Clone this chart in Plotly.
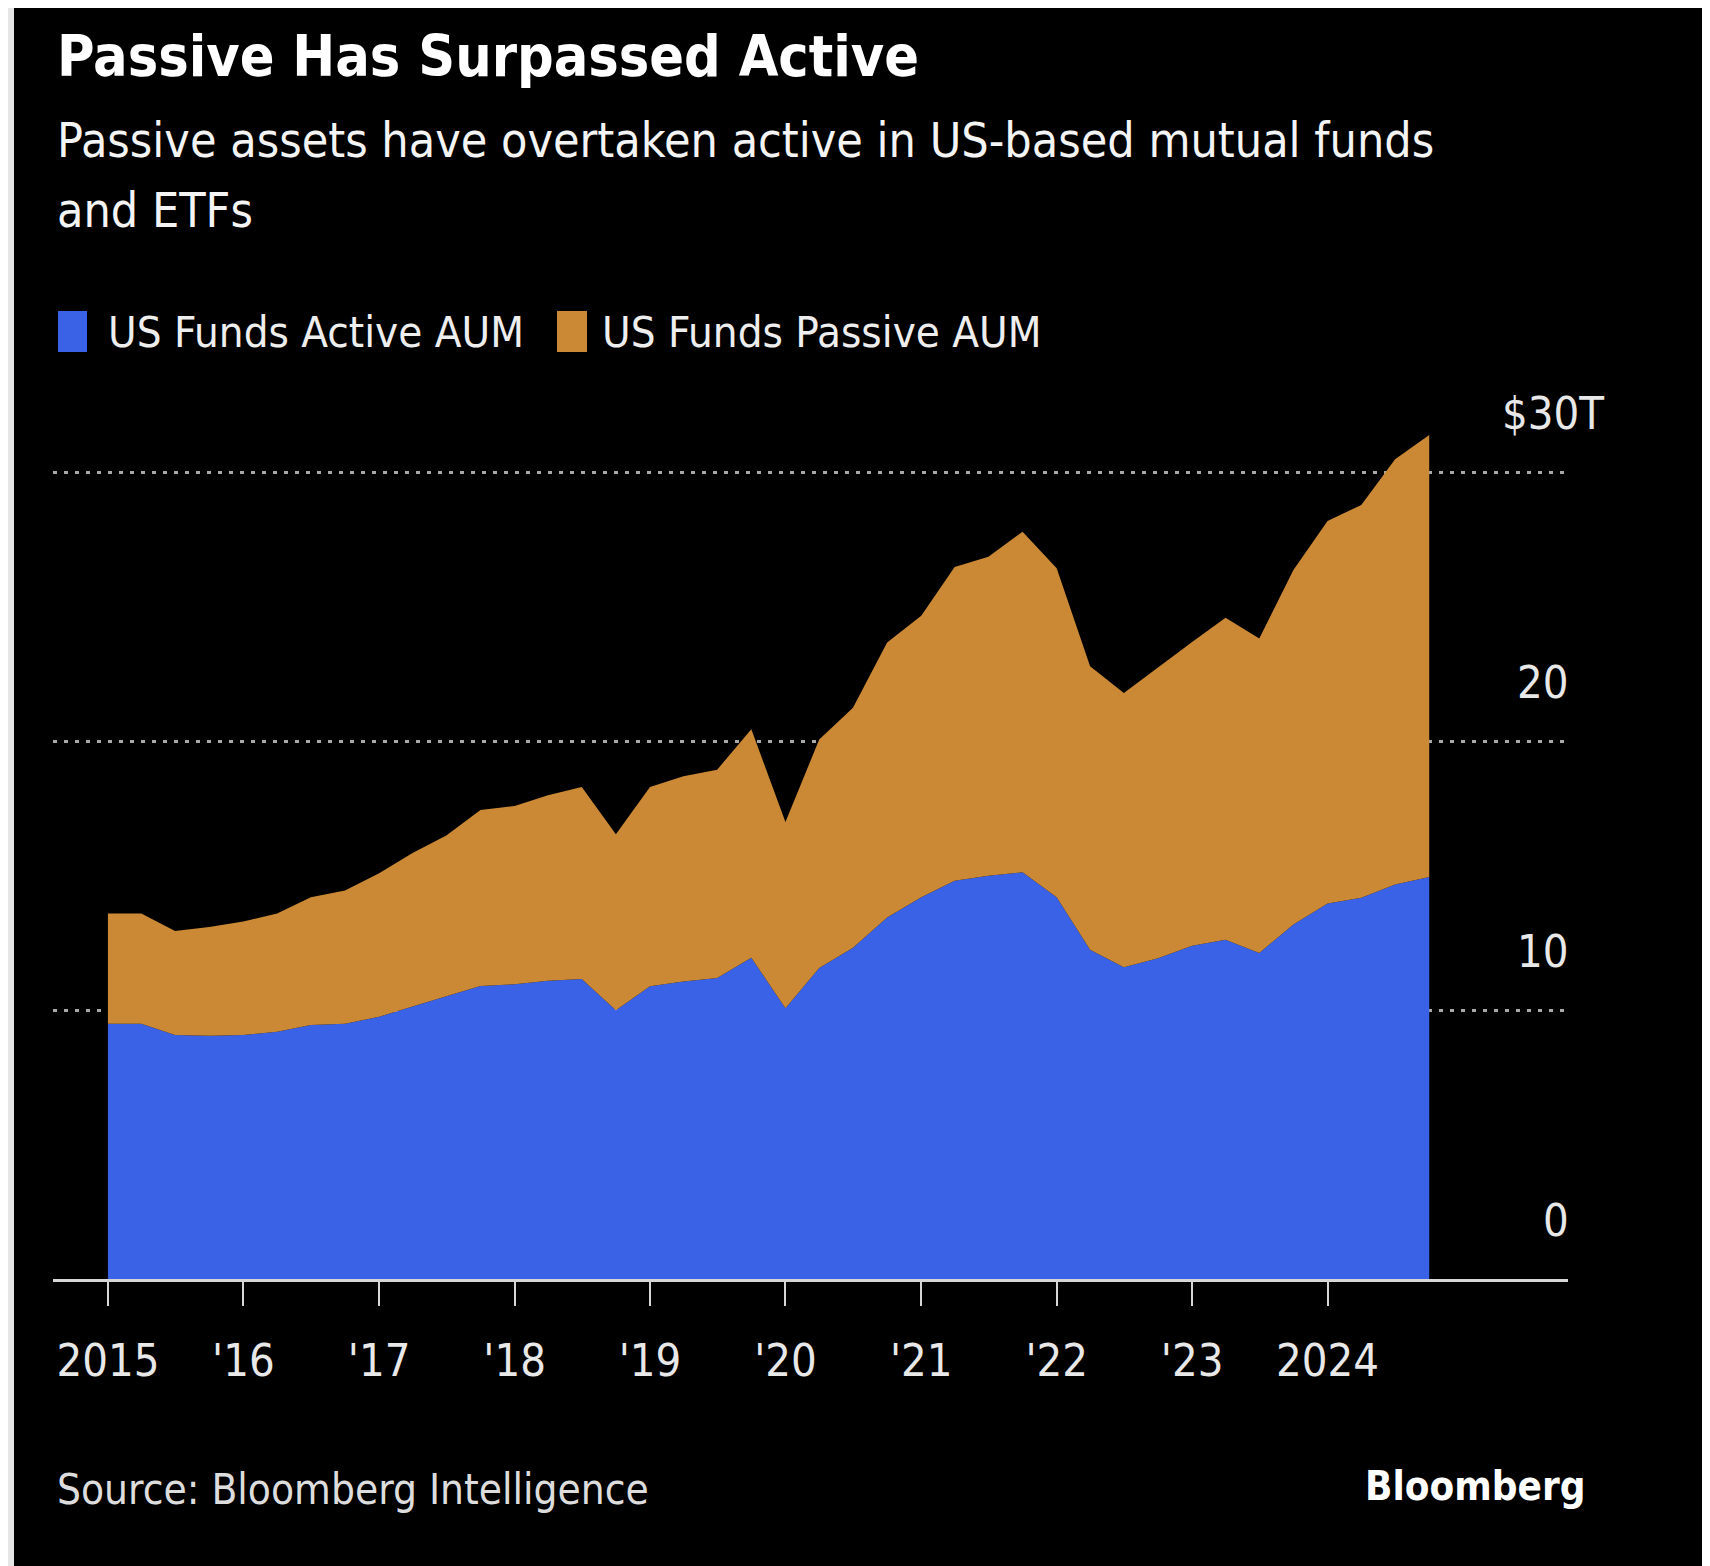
import pandas as pd
import plotly.graph_objects as go

# ---------------- data (USD trillions, quarterly) ----------------
quarters = pd.date_range("2015-01-01", "2024-10-01", freq="QS").strftime("%Y-%m-%d").tolist()

active_aum = [9.50, 9.50, 9.08, 9.05, 9.08, 9.20, 9.45, 9.50,
              9.76, 10.14, 10.52, 10.90, 10.97, 11.10, 11.16, 10.00,
              10.89, 11.07, 11.20, 11.95, 10.07, 11.57, 12.32, 13.45,
              14.20, 14.82, 15.00, 15.13, 14.20, 12.25, 11.60, 11.93,
              12.40, 12.62, 12.13, 13.19, 13.97, 14.18, 14.68, 14.96]

passive_aum = [4.10, 4.10, 3.87, 4.05, 4.22, 4.40, 4.75, 4.95,
               5.34, 5.71, 5.98, 6.55, 6.63, 6.90, 7.14, 6.55,
               7.41, 7.63, 7.75, 8.50, 6.93, 8.50, 8.93, 10.23,
               10.48, 11.67, 11.87, 12.67, 12.24, 10.55, 10.20, 10.82,
               11.30, 11.98, 11.70, 13.19, 14.23, 14.62, 15.82, 16.44]

series_names = ["US Funds Active AUM", "US Funds Passive AUM"]

x_tick_vals = ["2015-01-01", "2016-01-01", "2017-01-01", "2018-01-01", "2019-01-01",
               "2020-01-01", "2021-01-01", "2022-01-01", "2023-01-01", "2024-01-01"]
x_tick_text = ["2015", "'16", "'17", "'18", "'19", "'20", "'21", "'22", "'23", "2024"]

y_grid_vals = [10, 20, 30]
y_label_vals = [0, 10, 20]
y_label_text = ["0", "10", "20"]
y_top_val = 30
y_top_text = "$30T"

title = "Passive Has Surpassed Active"
subtitle_1 = "Passive assets have overtaken active in US-based mutual funds"
subtitle_2 = "and ETFs"
source = "Source: Bloomberg Intelligence"
brand = "Bloomberg"

# ---------------- style ----------------
BLUE = "#3A62E6"
ORANGE = "#CB8935"
FONT = "DejaVu Sans Condensed, Liberation Sans Narrow, Liberation Sans, sans-serif"
W, H = 1710, 1566
OFF = 8  # page body margin around the figure
ML, MR, MT, MB = 45, 150, 384, 295
PW, PH = W - ML - MR, H - MT - MB


def px_x(page_px):
    return (page_px - OFF - ML) / PW


def px_y(page_py):
    return (H - MB - (page_py - OFF)) / PH


fig = go.Figure()
fig.add_trace(go.Scatter(x=quarters, y=active_aum, name=series_names[0], stackgroup="aum",
                         mode="none", fillcolor=BLUE, hoverinfo="x+y+name"))
fig.add_trace(go.Scatter(x=quarters, y=passive_aum, name=series_names[1], stackgroup="aum",
                         mode="none", fillcolor=ORANGE, hoverinfo="x+y+name"))

x_start = pd.Timestamp("2015-01-01") - pd.Timedelta(days=148)
x_end = pd.Timestamp("2025-10-10")

annotations = []


def text_ann(txt, x_px, base_px, size, color="#ffffff", anchor="left", bold=False):
    top = base_px - 0.99 * size
    annotations.append(dict(
        text=f"<b>{txt}</b>" if bold else txt, xref="paper", yref="paper",
        x=px_x(x_px), y=px_y(top), xanchor=anchor, yanchor="top", showarrow=False,
        font=dict(family=FONT, size=size, color=color), borderpad=1))


text_ann(title, 55, 77, 57, bold=True)
text_ann(subtitle_1, 55, 158, 48, color="#f4f4f4")
text_ann(subtitle_2, 55, 228, 48, color="#f4f4f4")
text_ann(series_names[0], 106, 348, 43.5, color="#eeeeee")
text_ann(series_names[1], 600, 348, 43.5, color="#eeeeee")
text_ann(source, 55, 1505, 42, color="#dddddd")
text_ann(brand, 1587, 1501, 40, color="#ffffff", anchor="right", bold=True)

LABEL_SIZE = 45
for v, t in zip(y_label_vals, y_label_text):
    annotations.append(dict(text=t, xref="paper", yref="y", x=px_x(1570), y=v,
                            xanchor="right", yanchor="bottom", yshift=31, showarrow=False,
                            borderpad=0, font=dict(family=FONT, size=LABEL_SIZE, color="#e8e8e8")))
annotations.append(dict(text=y_top_text, xref="paper", yref="y", x=px_x(1605), y=y_top_val,
                        xanchor="right", yanchor="bottom", yshift=32, showarrow=False,
                        borderpad=0, font=dict(family=FONT, size=LABEL_SIZE, color="#e8e8e8")))

shapes = [
    dict(type="rect", xref="paper", yref="paper", x0=px_x(14), x1=px_x(W + 20),
         y0=px_y(4), y1=px_y(H + 20), fillcolor="#000000", line=dict(width=0), layer="below"),
    dict(type="rect", xref="paper", yref="paper", x0=px_x(58), x1=px_x(87),
         y0=px_y(352), y1=px_y(311), fillcolor=BLUE, line=dict(width=0)),
    dict(type="rect", xref="paper", yref="paper", x0=px_x(557), x1=px_x(587),
         y0=px_y(352), y1=px_y(311), fillcolor=ORANGE, line=dict(width=0)),
]

fig.update_layout(
    width=W, height=H, autosize=False,
    margin=dict(l=ML, r=MR, t=MT, b=MB, pad=0),
    paper_bgcolor="#e6e6e6", plot_bgcolor="rgba(0,0,0,0)",
    showlegend=False,
    font=dict(family=FONT, color="#e8e8e8"),
    annotations=annotations, shapes=shapes,
    xaxis=dict(type="date", range=[x_start, x_end], tickvals=x_tick_vals, ticktext=x_tick_text,
               ticks="outside", ticklen=24, tickwidth=2, tickcolor="#d6d6d6",
               showline=True, linecolor="#d6d6d6", linewidth=3, showgrid=False, zeroline=False,
               tickfont=dict(family=FONT, size=45, color="#e8e8e8"), ticklabelstandoff=16),
    yaxis=dict(range=[0, 33], tickvals=y_grid_vals, showticklabels=False, ticks="",
               showgrid=True, gridcolor="#a8a8a8", gridwidth=3, griddash="4px,7px",
               zeroline=False, showline=False),
)

fig.write_html("out.html")
